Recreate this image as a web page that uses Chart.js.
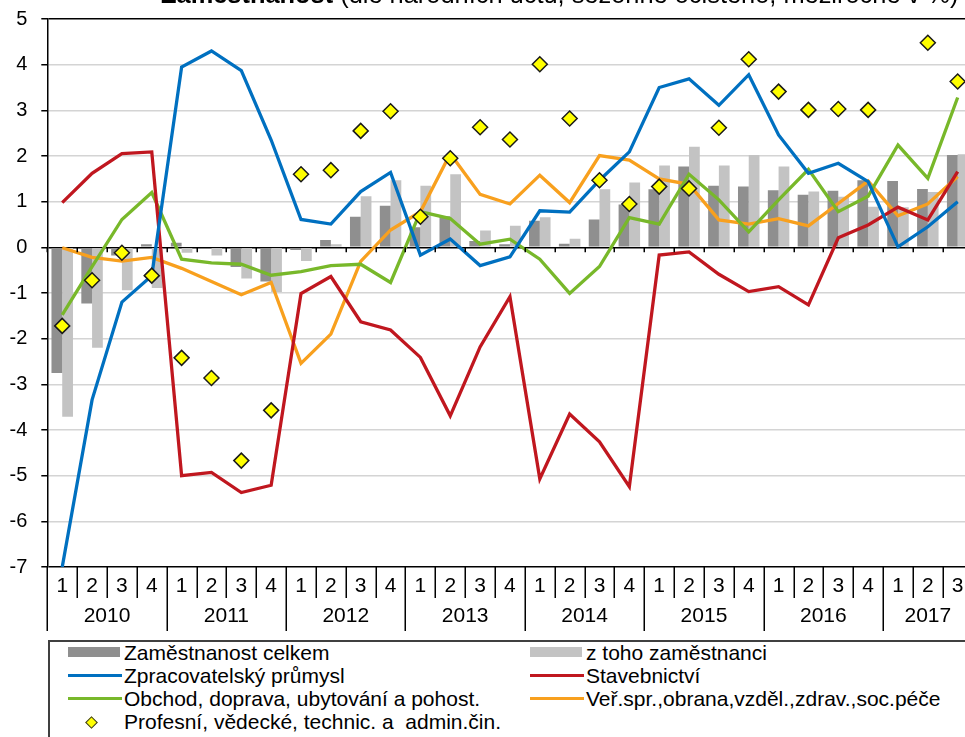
<!DOCTYPE html>
<html>
<head>
<meta charset="utf-8">
<script src="https://cdn.jsdelivr.net/npm/chart.js@4"></script>
<style>
  body { margin: 0; overflow: hidden; background: #fff; font-family: "Liberation Sans", Arial, sans-serif; }
  #wrap { position: relative; width: 965px; height: 737px; overflow: hidden; }
  #chart { position: absolute; left: 0; top: 0; }
  #title { position: absolute; left: 161px; top: -18px; font-size: 25.4px; line-height: 25px; white-space: nowrap; color: #000; }
  #legend { position: absolute; left: 48px; top: 640px; width: 1000px; height: 120px; border: 2px solid #404040; background: #fff; }
  .item { position: absolute; height: 23px; line-height: 23px; font-size: 21px; white-space: pre; color: #000; }
  .sw { position: absolute; }
</style>
</head>
<body>
<div id="wrap">
  <canvas id="chart" width="980" height="737"></canvas>
  <div id="title"><b>Zaměstnanost</b> (dle národních účtů, sezónně očištěno, meziročně v %)</div>
  <div id="legend"></div>
</div>
<script>
// quarters 2010 Q1 .. 2017 Q3
const quarterLabels = ["1","2","3","4","1","2","3","4","1","2","3","4","1","2","3","4",
  "1","2","3","4","1","2","3","4","1","2","3","4","1","2","3"];
const years = ["2010","2011","2012","2013","2014","2015","2016","2017"];

const celkem = [-2.75, -1.23, -0.18, 0.07, 0.10, -0.02, -0.43, -0.75, -0.06, 0.16, 0.67, 0.91, 0.44, 0.68, 0.14, 0.07,
  0.58, 0.08, 0.61, 0.94, 1.27, 1.77, 1.35, 1.33, 1.25, 1.15, 1.24, 1.47, 1.45, 1.28, 2.02];
const zamestnanci = [-3.71, -2.20, -0.94, -0.89, -0.12, -0.18, -0.68, -0.98, -0.30, 0.07, 1.12, 1.47, 1.35, 1.60, 0.37, 0.47,
  0.66, 0.19, 1.27, 1.42, 1.79, 2.20, 1.79, 2.02, 1.77, 1.22, 1.11, 0.89, 0.88, 1.21, 2.04];
const zpracovatelsky = [-7.0, -3.34, -1.20, -0.62, 3.95, 4.30, 3.87, 2.35, 0.61, 0.51, 1.22, 1.64, -0.17, 0.18, -0.40, -0.21,
  0.80, 0.77, 1.47, 2.09, 3.50, 3.69, 3.11, 3.78, 2.46, 1.62, 1.84, 1.44, 0.01, 0.45, 1.00];
const stavebnictvi = [0.98, 1.62, 2.05, 2.09, -5.00, -4.93, -5.37, -5.21, -1.01, -0.64, -1.63, -1.81, -2.41, -3.69, -2.18, -1.08,
  -5.07, -3.65, -4.26, -5.24, -0.17, -0.10, -0.59, -0.97, -0.86, -1.26, 0.21, 0.49, 0.88, 0.60, 1.66];
const obchod = [-1.48, -0.42, 0.61, 1.20, -0.26, -0.34, -0.37, -0.61, -0.53, -0.40, -0.37, -0.77, 0.78, 0.63, 0.07, 0.18,
  -0.26, -1.01, -0.42, 0.65, 0.51, 1.60, 1.04, 0.34, 1.04, 1.71, 0.78, 1.12, 2.24, 1.51, 3.28];
const verejna = [-0.01, -0.22, -0.30, -0.22, -0.46, -0.75, -1.04, -0.77, -2.54, -1.90, -0.31, 0.38, 0.78, 2.05, 1.16, 0.95,
  1.58, 0.98, 2.01, 1.91, 1.50, 1.38, 0.60, 0.51, 0.63, 0.47, 0.96, 1.45, 0.69, 0.95, 1.55];
const profesni = [-1.72, -0.72, -0.12, -0.62, -2.42, -2.86, -4.67, -3.57, 1.60, 1.69, 2.55, 2.98, 0.67, 1.95, 2.63, 2.36,
  4.01, 2.82, 1.47, 0.95, 1.33, 1.29, 2.62, 4.12, 3.41, 3.01, 3.03, 3.01, null, 4.48, 3.63];

const FONT = '"Liberation Sans", Arial, sans-serif';

// x axis table: quarter separators, year separators and year labels
const quarterTable = {
  id: "quarterTable",
  afterDraw(chart) {
    const { ctx, chartArea, scales } = chart;
    const n = quarterLabels.length;
    const cw = (chartArea.right - chartArea.left) / n;
    const y0 = scales.y.getPixelForValue(0);
    ctx.save();
    ctx.strokeStyle = "#000";
    ctx.lineWidth = 1.5;
    for (let k = 0; k <= n; k++) {
      const bx = Math.round(chartArea.left + k * cw) + 0.25;
      ctx.beginPath();
      ctx.moveTo(bx, y0);
      ctx.lineTo(bx, y0 + 5);
      ctx.moveTo(bx, chartArea.bottom);
      ctx.lineTo(bx, chartArea.bottom + (k % 4 === 0 ? 64 : 31));
      ctx.stroke();
    }
    ctx.fillStyle = "#000";
    ctx.font = "21px " + FONT;
    ctx.textAlign = "center";
    ctx.textBaseline = "middle";
    years.forEach((yr, j) => {
      const first = j * 4;
      const last = Math.min(first + 3, n - 1);
      const cx = (scales.x.getPixelForValue(first) + scales.x.getPixelForValue(last)) / 2;
      ctx.fillText(yr, cx, chartArea.bottom + 49);
    });
    ctx.restore();
  }
};

const ctx = document.getElementById("chart").getContext("2d");

const lineStyle = (color) => ({
  borderColor: color,
  backgroundColor: color,
  borderWidth: 3.3,
  pointRadius: 0,
  tension: 0,
  fill: false
});

const chart = new Chart(ctx, {
  type: "bar",
  data: {
    labels: quarterLabels,
    datasets: [
      { label: "Profesní, vědecké, technic. a  admin.čin.", type: "line", data: profesni, showLine: false,
        pointStyle: "rectRot", pointRadius: 7.5, pointBackgroundColor: "#ffff00", pointBorderColor: "#1a1a1a",
        pointBorderWidth: 1.5, order: 0 },
      { label: "Zpracovatelský průmysl", type: "line", data: zpracovatelsky, ...lineStyle("#0070c0"), order: 1 },
      { label: "Stavebnictví", type: "line", data: stavebnictvi, ...lineStyle("#c0171f"), order: 1 },
      { label: "Obchod, doprava, ubytování a pohost.", type: "line", data: obchod, ...lineStyle("#78b82a"), order: 1 },
      { label: "Veř.spr.,obrana,vzděl.,zdrav.,soc.péče", type: "line", data: verejna, ...lineStyle("#f8a01e"), order: 1 },
      { label: "Zaměstnanost celkem", data: celkem, backgroundColor: "#8f8f8f", order: 2,
        categoryPercentage: 0.72, barPercentage: 1.0 },
      { label: "z toho zaměstnanci", data: zamestnanci, backgroundColor: "#c3c3c3", order: 2,
        categoryPercentage: 0.72, barPercentage: 1.0 }
    ]
  },
  options: {
    responsive: false,
    animation: false,
    devicePixelRatio: 1,
    layout: { autoPadding: false, padding: { top: 19, right: 7.4, left: 0, bottom: 0 } },
    plugins: {
      legend: { display: false },
      tooltip: { enabled: false },
      title: { display: false }
    },
    scales: {
      x: {
        grid: { display: false, drawTicks: false },
        border: { display: false },
        ticks: { color: "#000", font: { family: FONT, size: 21 }, padding: 7, autoSkip: false, maxRotation: 0 },
        afterFit(scale) { scale.height = 170; }
      },
      y: {
        min: -7,
        max: 5,
        ticks: { stepSize: 1, color: "#000", font: { family: FONT, size: 20 }, padding: 14 },
        grid: {
          color: (c) => (c.tick && [0, 5, -7].includes(c.tick.value) ? "#000" : "#d4d4d4"),
          lineWidth: 1.5,
          tickColor: "#000",
          tickLength: 6
        },
        border: { color: "#000", width: 1.5 },
        afterFit(scale) {
          scale.width = 47.3;
          scale.paddingTop = 0;
          scale.paddingBottom = 0;
        }
      }
    }
  },
  plugins: [quarterTable]
});

// legend, two columns like the original
const legend = document.getElementById("legend");
const ds = chart.data.datasets;
const byLabel = (l) => ds.find((d) => d.label === l);
const legendRows = [
  ["Zaměstnanost celkem", "z toho zaměstnanci"],
  ["Zpracovatelský průmysl", "Stavebnictví"],
  ["Obchod, doprava, ubytování a pohost.", "Veř.spr.,obrana,vzděl.,zdrav.,soc.péče"],
  ["Profesní, vědecké, technic. a  admin.čin."]
];
const colX = [18, 480];
legendRows.forEach((row, r) => {
  row.forEach((label, c) => {
    const d = byLabel(label);
    const cy = 10 + r * 23;
    const sw = document.createElement("div");
    sw.className = "sw";
    if (d.type === "line" && d.showLine === false) {
      sw.style.cssText = `left:${colX[c] + 19}px;top:${cy - 3}px;width:7px;height:7px;background:#ffff00;border:1px solid #333;transform:rotate(45deg);`;
    } else if (d.type === "line") {
      sw.style.cssText = `left:${colX[c]}px;top:${cy - 1.5}px;width:54px;height:3px;background:${d.borderColor};`;
    } else {
      sw.style.cssText = `left:${colX[c]}px;top:${cy - 5}px;width:52px;height:10px;background:${d.backgroundColor};`;
    }
    legend.appendChild(sw);
    const t = document.createElement("div");
    t.className = "item";
    t.style.left = colX[c] + 56 + "px";
    t.style.top = cy - 11.5 + "px";
    t.textContent = label;
    legend.appendChild(t);
  });
});
</script>
</body>
</html>
